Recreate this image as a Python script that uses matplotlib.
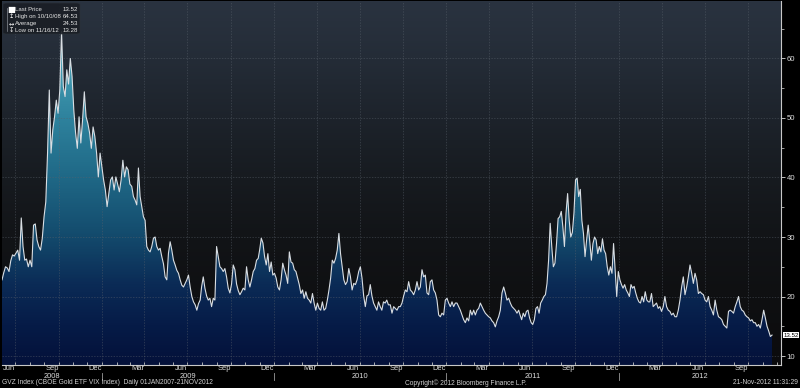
import numpy as np
import pandas as pd
import matplotlib
matplotlib.use('Agg')
import matplotlib.pyplot as plt
import matplotlib.dates as mdates
import matplotlib.transforms as mtransforms
from matplotlib.colors import LinearSegmentedColormap
from matplotlib.patches import FancyBboxPatch, PathPatch
from matplotlib.lines import Line2D

plt.rcParams['font.family'] = ['Liberation Sans', 'DejaVu Sans']

# ---------------- data (GVZ daily close) ----------------
seg_a_span = ('2008-06-03', '2009-03-01')
seg_a = [22.8, 24.0, 25.0, 24.8, 24.2, 26.0, 27.0, 26.8, 27.3, 27.8, 26.1, 33.2, 28.4, 26.1, 26.3,
         25.0, 26.1, 25.0, 32.0, 32.2, 29.5, 28.4, 27.8, 29.8, 33.4, 35.9, 44.1, 54.7, 44.1, 48.0,
         50.2, 53.0, 50.8, 54.7, 64.53, 55.3, 53.6, 58.1, 55.7, 60.0, 57.0, 51.3, 47.5, 44.9, 50.2,
         45.8, 49.7, 54.4, 50.2, 49.1, 47.5, 44.9, 48.5, 46.9, 44.1, 40.1, 44.1, 41.8, 39.6, 37.9,
         35.1, 37.4, 39.6, 40.1, 37.9, 40.1, 38.9, 37.6, 39.6, 42.9, 40.1, 41.8, 41.3, 38.9]
seg_b_span = ('2009-03-05', '2009-07-28')
seg_b = [38.5, 36.8, 36.2, 35.4, 41.6, 36.8, 35.1, 33.4, 32.8, 28.4, 27.8, 27.5, 28.4, 29.8, 30.0,
         28.4, 27.8, 28.1, 26.7, 25.5, 23.3, 22.8, 27.3, 29.2, 27.8, 26.1, 25.3, 24.4, 23.9, 22.8,
         21.9, 21.6, 22.2, 22.8, 23.6, 21.6, 20.0, 19.1, 18.6, 17.7, 18.8, 19.4]
seg_c_span = ('2009-07-31', '2009-11-28')
seg_c = [21.6, 23.3, 21.4, 20.1, 19.4, 19.7, 18.3, 19.7, 19.4, 28.4, 26.7, 25.0, 24.7, 24.2, 24.7,
         23.3, 21.4, 20.6, 22.1, 25.3, 24.5, 22.1, 21.0, 20.3, 20.8, 21.4, 21.1, 25.0, 22.8, 21.6,
         22.8, 24.2, 24.7, 26.1, 26.4]
seg_d_span = ('2009-12-01', '2010-08-31')
seg_d = [27.8, 29.8, 29.0, 26.7, 25.3, 27.2, 24.2, 25.8, 23.6, 23.9, 23.1, 21.6, 21.1, 22.8, 25.6,
         24.5, 23.6, 22.2, 27.5, 25.8, 25.6, 24.5, 24.2, 23.1, 22.0, 20.5, 21.1, 19.7, 20.8, 19.7,
         19.4, 18.9, 20.5, 18.9, 17.7, 18.9, 18.0, 17.7, 19.1, 17.7, 18.0, 19.4, 21.1, 23.1, 26.1,
         25.6, 26.4, 27.8, 30.6, 27.2, 25.0, 22.8, 22.0, 22.5, 24.7, 23.3, 21.1, 22.2, 22.0, 22.8,
         24.2, 25.0, 23.1, 20.1, 18.3, 20.1, 20.3, 22.0, 20.1, 18.9, 18.3, 17.7, 19.1, 18.3, 17.7,
         19.1, 18.9, 19.4, 18.6]
seg_e_span = ('2010-09-04', '2011-06-03')
seg_e = [18.6, 17.2, 18.3, 18.0, 17.7, 18.3, 18.3, 18.9, 20.1, 21.1, 20.8, 22.5, 21.1, 20.8, 20.3,
         21.1, 22.5, 21.1, 21.6, 24.5, 23.3, 23.6, 20.6, 20.3, 22.5, 22.8, 21.1, 20.6, 19.4, 16.9,
         16.6, 17.2, 16.9, 19.4, 19.7, 18.9, 18.3, 19.1, 18.3, 18.9, 18.9, 18.3, 17.7, 16.9, 16.1,
         15.6, 16.4, 15.9, 17.7, 16.9, 17.7, 16.9, 17.7, 18.0, 18.9, 18.3, 17.7, 17.2, 16.9, 16.6,
         16.4, 15.9, 15.6, 14.9, 15.9, 16.6, 17.7, 20.6, 21.6, 20.6, 19.4, 19.7, 18.9, 18.3, 18.0,
         17.7, 17.2, 17.7]
seg_f_span = ('2011-06-06', '2012-03-04')
seg_f = [16.9, 16.1, 17.2, 16.6, 17.5, 17.7, 16.4, 15.6, 15.3, 16.1, 18.0, 18.3, 17.2, 18.9, 19.4,
         20.0, 20.3, 22.2, 26.1, 32.3, 28.4, 25.0, 25.6, 28.9, 33.1, 33.4, 34.3, 31.7, 28.4, 34.0,
         37.3, 32.8, 30.0, 30.8, 34.0, 39.6, 39.9, 36.8, 38.0, 32.8, 30.6, 26.7, 29.5, 32.0, 29.2,
         26.1, 28.9, 30.0, 29.5, 27.2, 28.4, 27.5, 29.7, 27.8, 27.2, 25.0, 23.6, 25.0, 23.9, 28.9,
         24.5, 20.0, 24.2, 22.8, 22.0, 21.4, 22.0, 21.1, 20.6, 20.0, 22.0, 21.4, 21.7, 20.6, 19.7,
         19.1, 18.9, 20.0, 19.1, 20.8, 19.4, 19.1]
seg_g_span = ('2012-03-07', '2012-11-21')
seg_g = [19.1, 20.5, 18.3, 18.6, 18.9, 18.0, 18.3, 17.5, 18.3, 20.0, 18.3, 17.7, 17.5, 16.9, 17.2,
         16.6, 16.6, 17.7, 19.4, 21.6, 23.3, 20.3, 21.6, 23.3, 25.3, 23.9, 22.2, 23.9, 22.8, 20.5,
         20.8, 20.5, 20.3, 19.4, 19.1, 20.0, 18.3, 17.7, 16.9, 19.4, 17.7, 16.6, 16.4, 16.1, 15.3,
         15.0, 14.7, 17.5, 17.7, 17.5, 17.2, 18.3, 19.1, 20.0, 18.3, 17.7, 17.5, 16.9, 16.6, 16.4,
         15.9, 16.1, 15.6, 15.6, 15.0, 15.3, 14.7, 16.1, 17.7, 16.4, 15.0, 14.2, 13.28, 13.52]

legend_icons = ['■', '↥', '↔', '↧']
legend_labels = ['Last Price', 'High on 10/10/08', 'Average', 'Low on 11/16/12']
legend_values = ['13.52', '64.53', '24.53', '13.28']
last_price = 13.52
y_ticks = [10, 20, 30, 40, 50, 60]
y_minor = [15, 25, 35, 45, 55, 65]
footer_left = 'GVZ Index (CBOE Gold ETF VIX Index)  Daily 01JAN2007-21NOV2012'
footer_mid = 'Copyright© 2012 Bloomberg Finance L.P.'
footer_right = '21-Nov-2012 11:31:29'

segments = [(seg_a_span, seg_a), (seg_b_span, seg_b), (seg_c_span, seg_c), (seg_d_span, seg_d),
            (seg_e_span, seg_e), (seg_f_span, seg_f), (seg_g_span, seg_g)]
dates = pd.DatetimeIndex(np.concatenate(
    [pd.date_range(s, e, periods=len(v)).values for (s, e), v in segments]))
gvz = np.concatenate([np.array(v, dtype=float) for _, v in segments])

# ---------------- figure ----------------
W, H = 800, 388
fig = plt.figure(figsize=(W / 100, H / 100), dpi=100, facecolor='black')
ax = fig.add_axes([2 / W, 1 - 365 / H, (781 - 2) / W, (365 - 1) / H])

x0 = mdates.date2num(pd.Timestamp('2008-06-03'))
x1 = mdates.date2num(pd.Timestamp('2012-12-10'))
y0, y1 = 8.49, 69.66
ax.set_xlim(x0, x1)
ax.set_ylim(y0, y1)
ax.set_facecolor('#0c0c0e')


def vcmap(name, stops):
    return LinearSegmentedColormap.from_list(
        name, [((v - y0) / (y1 - y0), c) for v, c in stops])


bg_cmap = vcmap('bg', [(y0, '#0b0b0d'), (20, '#0f1012'), (30, '#121417'), (40, '#171b20'),
                       (50, '#1d232b'), (60, '#242c37'), (y1, '#2a3340')])
fill_cmap = vcmap('fill', [(y0, '#04113a'), (15, '#061b47'), (22, '#0b2b56'), (30, '#134a6c'),
                           (40, '#1f6886'), (50, '#2e829d'), (60, '#469fb5'), (y1, '#58b0c3')])

grad = np.linspace(y0, y1, 400).reshape(-1, 1)
ax.imshow(grad, extent=[x0, x1, y0, y1], origin='lower', aspect='auto', cmap=bg_cmap,
          vmin=y0, vmax=y1, zorder=0, interpolation='bilinear')

xd = mdates.date2num(dates)
poly = ax.fill_between(xd, gvz, y0, facecolor='none', edgecolor='none')
clip = PathPatch(poly.get_paths()[0], transform=ax.transData, facecolor='none', edgecolor='none')
ax.add_patch(clip)
im = ax.imshow(grad, extent=[x0, x1, y0, y1], origin='lower', aspect='auto', cmap=fill_cmap,
               vmin=y0, vmax=y1, zorder=1, interpolation='bilinear')
im.set_clip_path(clip)

# grid
for d in pd.date_range('2008-07-01', '2012-12-01', freq='QS-JAN'):
    ax.axvline(mdates.date2num(d), color='#5a626c', lw=0.5, ls=(0, (2, 2)), alpha=0.6, zorder=2)
for v in y_ticks:
    ax.axhline(v, color='#5a626c', lw=0.5, ls=(0, (2, 2)), alpha=0.6, zorder=2)

ax.plot(xd, gvz, color='#d9dee3', lw=0.8, zorder=3, solid_joinstyle='round')

# axes styling
for s in ['top', 'left']:
    ax.spines[s].set_visible(False)
for s in ['right', 'bottom']:
    ax.spines[s].set_color('#c8c8c8')
    ax.spines[s].set_linewidth(0.8)
ax.yaxis.tick_right()
ax.set_yticks(y_ticks)
ax.set_yticks(y_minor, minor=True)
ax.tick_params(axis='y', which='major', colors='#dcdcdc', labelsize=5.6, length=3, width=0.6,
               pad=1, direction='out')
ax.tick_params(axis='y', which='minor', colors='#dcdcdc', length=2, width=0.5, direction='out')
ax.set_xticks([])
ax.set_xticks(mdates.date2num(pd.date_range('2008-07-01', '2012-12-01', freq='MS')), minor=True)
ax.tick_params(axis='x', which='minor', colors='#c8c8c8', length=2, width=0.6, direction='in')

# month and year labels
bt = mtransforms.blended_transform_factory(ax.transData, fig.transFigure)
for d in pd.date_range('2008-06-01', '2012-11-01', freq='MS'):
    if d.month in (3, 6, 9, 12):
        xm = mdates.date2num(d + pd.Timedelta(days=16))
        ax.text(xm, 1 - 369 / H, d.strftime('%b'), transform=bt, ha='center', va='center',
                fontsize=5.4, color='#dcdcdc', clip_on=False)
for yr in range(2008, 2013):
    a = max(mdates.date2num(pd.Timestamp(f'{yr}-01-01')), x0)
    b = min(mdates.date2num(pd.Timestamp(f'{yr + 1}-01-01')), x1)
    ax.text((a + b) / 2, 1 - 376.5 / H, str(yr), transform=bt, ha='center', va='center',
            fontsize=5.4, color='#dcdcdc', clip_on=False)
    if yr > 2008:
        fig.add_artist(Line2D([a, a], [1 - 373 / H, 1 - 380 / H], transform=bt,
                              color='#9a9a9a', lw=0.6))

# last price tag
yt = mtransforms.blended_transform_factory(ax.transAxes, ax.transData)
ax.text(1.003, last_price, legend_values[0], transform=yt, ha='left', va='center', fontsize=4.4,
        color='black', clip_on=False,
        bbox=dict(boxstyle='square,pad=0.12', fc='white', ec='none'))

# legend box
fig.add_artist(FancyBboxPatch((3 / W, 1 - 34 / H), 77 / W, 31 / H,
                              boxstyle='round,pad=0,rounding_size=0.004',
                              transform=fig.transFigure, facecolor='#1a1e25',
                              edgecolor='#2c3138', lw=0.5, alpha=0.92, zorder=5))
fig.add_artist(Line2D([7 / W, 7 / W], [1 - 8 / H, 1 - 31 / H], transform=fig.transFigure,
                      color='#8a8f96', lw=0.5, zorder=6))
rows_y = [9.5, 16.5, 23.5, 30.5]
for ic, lab, val, yy in zip(legend_icons, legend_labels, legend_values, rows_y):
    fig.text(11.5 / W, 1 - yy / H, ic, ha='center', va='center', fontsize=4.6 if ic != '■' else 6,
             color='white', zorder=7, family=['DejaVu Sans'])
    fig.text(15 / W, 1 - yy / H, lab, ha='left', va='center', fontsize=4.3, color='#e6e6e6',
             zorder=7)
    fig.text(78 / W, 1 - yy / H, val, ha='right', va='center', fontsize=4.4, color='#e6e6e6',
             zorder=7)

# footer
fig.text(2 / W, 1 - 383 / H, footer_left, ha='left', va='center', fontsize=4.8, color='#d0d0d0')
fig.text(405 / W, 1 - 383 / H, footer_mid, ha='left', va='center', fontsize=4.8, color='#d0d0d0')
fig.text(798 / W, 1 - 383 / H, footer_right, ha='right', va='center', fontsize=4.8,
         color='#d0d0d0')

fig.savefig('out.png', dpi=100, facecolor='black')
